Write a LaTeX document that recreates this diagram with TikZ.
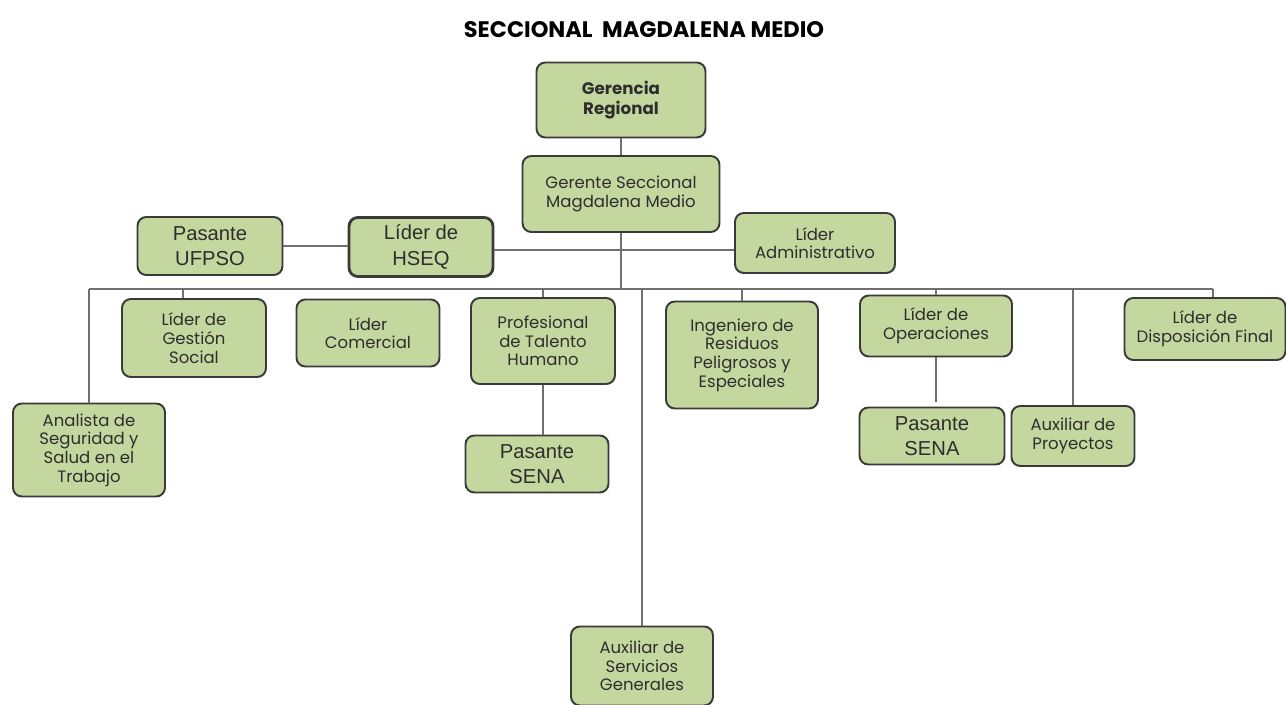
\documentclass[tikz,border=0pt]{standalone}
\usepackage{fontspec}
\setmainfont{Poppins}
\newfontfamily\arialfont{Liberation Sans}
\usetikzlibrary{positioning}

\definecolor{verdecaja}{HTML}{C4D79F}
\definecolor{bordecaja}{HTML}{3A3A3A}
\definecolor{gristexto}{HTML}{2E2E2E}
\definecolor{grislinea}{HTML}{707070}

\tikzset{
  cargo/.style={draw=bordecaja, fill=verdecaja, line width=1.1pt,
    rounded corners=5pt, align=center, text=gristexto, inner sep=2pt,
    font=\fontsize{9.4}{10.6}\selectfont},
  pasante/.style={cargo, font=\arialfont\fontsize{11.5}{14.5}\selectfont},
  enlace/.style={draw=grislinea, line width=1.1pt}
}

\begin{document}
\begin{tikzpicture}[x=0.02cm,y=-0.02cm]
\useasboundingbox (0,0) rectangle (1286,705);

% Titulo
\node[font=\bfseries\fontsize{12.8}{15}\selectfont] (titulo) at (644,30)
{SECCIONAL\ \ MAGDALENA MEDIO};

% Nivel superior
\node[cargo, font=\bfseries\fontsize{9.5}{11}\selectfont,
minimum width=3.38cm, minimum height=1.5cm] (gregional) at (621,100)
{Gerencia\\ Regional};

\node[cargo, minimum width=3.94cm, minimum height=1.52cm]
(gseccional) at (621,194)
{Gerente Seccional\\ Magdalena Medio};

% Fila de apoyo
\node[pasante, minimum width=2.9cm, minimum height=1.16cm]
(ufpso) at (210,246) {Pasante\\ UFPSO};

\node[pasante, line width=1.6pt, minimum width=2.88cm, minimum height=1.18cm]
(hseq) at (421,247) {Líder de\\ HSEQ};

\node[cargo, minimum width=3.2cm, minimum height=1.2cm]
(administrativo) at (815,243) {Líder\\ Administrativo};

% Fila de cargos
\node[cargo, minimum width=3.04cm, minimum height=1.86cm]
(analista) at (89,450)
{Analista de\\ Seguridad y\\ Salud en el\\ Trabajo};

\node[cargo, minimum width=2.88cm, minimum height=1.56cm]
(gestion) at (194,338) {Líder de\\ Gestión\\ Social};

\node[cargo, minimum width=2.86cm, minimum height=1.34cm]
(comercial) at (368,333) {Líder\\ Comercial};

\node[cargo, minimum width=2.88cm, minimum height=1.72cm]
(profesional) at (543,341) {Profesional\\ de Talento\\ Humano};

\node[pasante, minimum width=2.86cm, minimum height=1.14cm]
(senath) at (537,464) {Pasante\\ SENA};

\node[cargo, minimum width=2.84cm, minimum height=1.58cm]
(servicios) at (642,666) {Auxiliar de\\ Servicios\\ Generales};

\node[cargo, minimum width=3.04cm, minimum height=2.14cm]
(ingeniero) at (742,355)
{Ingeniero de\\ Residuos\\ Peligrosos y\\ Especiales};

\node[cargo, minimum width=3.04cm, minimum height=1.22cm]
(operaciones) at (936,326) {Líder de\\ Operaciones};

\node[pasante, minimum width=2.9cm, minimum height=1.14cm]
(senaop) at (932,436) {Pasante\\ SENA};

\node[cargo, minimum width=2.46cm, minimum height=1.2cm]
(proyectos) at (1073,436) {Auxiliar de\\ Proyectos};

\node[cargo, minimum width=3.22cm, minimum height=1.24cm]
(disposicion) at (1205,329) {Líder de\\ Disposición Final};

% Lineas
\coordinate (bus) at (621,289);
\draw[enlace] (gregional) -- (gseccional);
\draw[enlace] (gseccional.south) -- (bus);
\draw[enlace] (ufpso.east) -- (ufpso.east -| hseq.west);
\draw[enlace] ([yshift=-0.06cm]hseq.east) -- ([yshift=-0.06cm]hseq.east -| administrativo.west);
\draw[enlace] (analista.north |- bus) -- ([xshift=0.16cm]disposicion.north |- bus);
\foreach \n in {analista,profesional,servicios,ingeniero,operaciones,proyectos}
  \draw[enlace] (\n.north) -- (\n.north |- bus);
\draw[enlace] ([xshift=-0.22cm]gestion.north) -- ([xshift=-0.22cm]gestion.north |- bus);
\draw[enlace] ([xshift=0.16cm]disposicion.north) -- ([xshift=0.16cm]disposicion.north |- bus);
\draw[enlace] (profesional.south) -- (profesional.south |- senath.north);
\draw[enlace] (operaciones.south) -- ([yshift=0.1cm]operaciones.south |- senaop.north);

\end{tikzpicture}
\end{document}
